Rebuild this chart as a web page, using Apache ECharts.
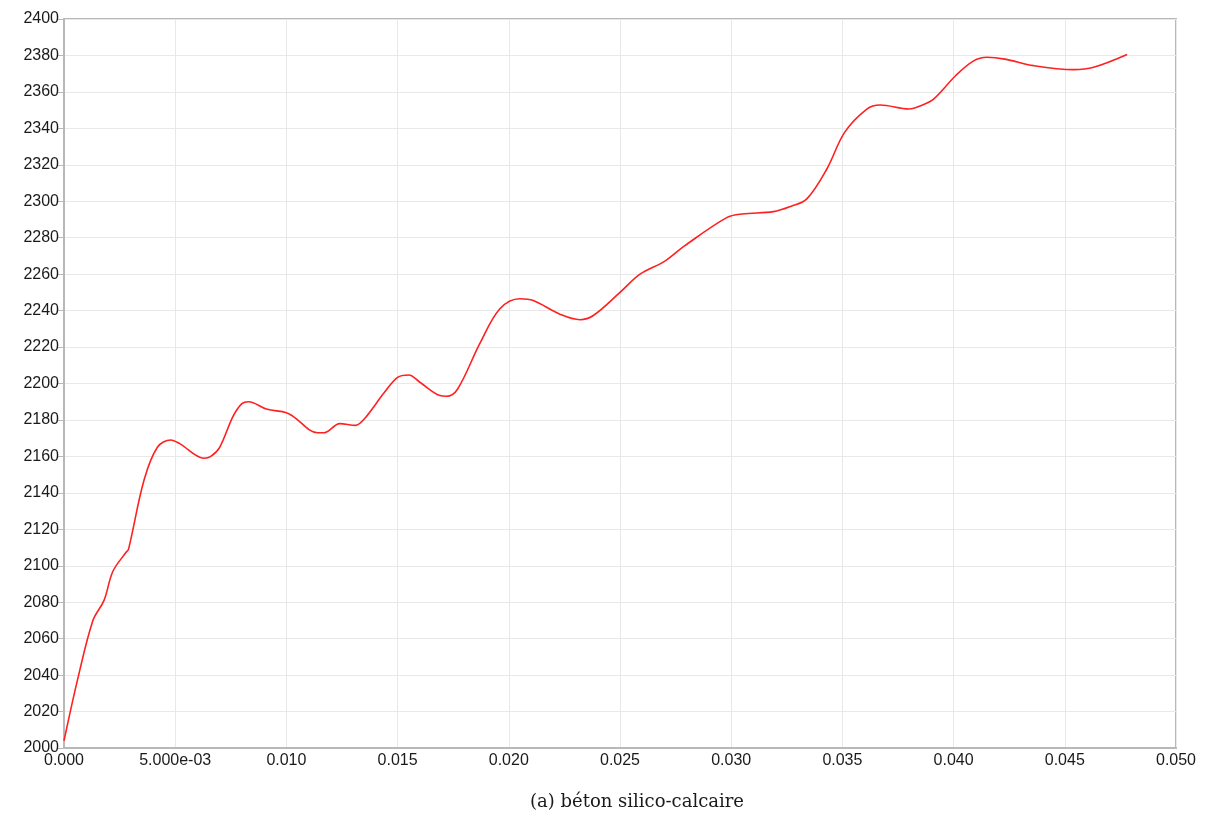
<!DOCTYPE html>
<html>
<head>
    <meta charset="UTF-8">
    <title>béton silico-calcaire</title>
    <script src="https://cdn.jsdelivr.net/npm/echarts@6/dist/echarts.min.js"></script>
    <style>
        html, body { margin: 0; padding: 0; background: #fff; }
        #chart { width: 1207px; height: 814px; }
    </style>
</head>
<body>
<div id="chart"></div>
<script>
    // déformation (axe x)
    var strain = [0, 0.0006, 0.0013, 0.0018, 0.0022, 0.0028, 0.0029, 0.0036, 0.0042, 0.0048,
        0.0052, 0.0063, 0.0066, 0.0070, 0.0076, 0.0080, 0.0083, 0.0091, 0.0100, 0.0103,
        0.0114, 0.0117, 0.0124, 0.0131, 0.0135, 0.0144, 0.0150, 0.0155, 0.0160, 0.0169,
        0.0172, 0.0177, 0.0187, 0.0196, 0.0205, 0.0211, 0.0223, 0.0232, 0.0238, 0.0250,
        0.0259, 0.0270, 0.0279, 0.0298, 0.0305, 0.0319, 0.0327, 0.0334, 0.0343, 0.0351,
        0.0361, 0.0367, 0.0380, 0.0386, 0.0391, 0.0401, 0.0409, 0.0415, 0.0423, 0.0436,
        0.0454, 0.0463, 0.0478];
    // masse volumique (axe y)
    var density = [2004, 2037, 2070, 2081, 2097, 2107.5, 2109, 2147, 2165, 2169,
        2167, 2159, 2160, 2165, 2182, 2189, 2190, 2186, 2184, 2182,
        2173, 2173, 2178, 2177, 2180.5, 2195, 2203.4, 2204.7, 2200.7, 2193.4,
        2193, 2197, 2222, 2241, 2246.5, 2245.5, 2238, 2235, 2237.3, 2250,
        2260, 2267, 2275.5, 2291, 2293, 2294.3, 2297.3, 2301.3, 2317.7, 2337.8,
        2350.6, 2352.8, 2350.6, 2352.8, 2356, 2369, 2377, 2379, 2378, 2374.4,
        2372.2, 2373.5, 2380.5];
    var caption = '(a) béton silico-calcaire';

    var points = strain.map(function (x, i) { return [x, density[i]]; });

    var myChart = echarts.init(document.getElementById('chart'));
    var option = {
        animation: false,
        backgroundColor: '#ffffff',
        title: {
            text: caption,
            left: 632,
            textAlign: 'center',
            top: 788,
            textStyle: { fontFamily: 'DejaVu Serif', fontWeight: 'normal', fontSize: 18, color: '#1a1a1a' }
        },
        grid: {
            left: 64, right: 31, top: 19, bottom: 66,
            show: true, borderColor: '#b8b8b8', borderWidth: 2, backgroundColor: '#fff'
        },
        xAxis: {
            type: 'value', min: 0, max: 0.05, interval: 0.005,
            axisLine: { show: true, lineStyle: { color: '#b8b8b8', width: 2 } },
            axisTick: { show: false },
            axisLabel: {
                margin: 5, color: '#1a1a1a', fontFamily: 'Liberation Sans', fontSize: 16,
                formatter: function (v) {
                    if (Math.abs(v - 0.005) < 1e-9) return '5.000e-03';
                    return v.toFixed(3);
                }
            },
            splitLine: { show: true, lineStyle: { color: '#e8e8e8', width: 1 } }
        },
        yAxis: {
            type: 'value', min: 2000, max: 2400, interval: 20,
            axisLine: { show: true, lineStyle: { color: '#b8b8b8', width: 2 } },
            axisTick: { show: true, length: 6, lineStyle: { color: '#b8b8b8' } },
            axisLabel: {
                margin: 5, color: '#1a1a1a', fontFamily: 'Liberation Sans', fontSize: 16,
                formatter: function (v) { return String(v); }
            },
            splitLine: { show: true, lineStyle: { color: '#e8e8e8', width: 1 } }
        },
        series: [{
            type: 'line',
            data: points,
            smooth: 0.35,
            showSymbol: false,
            lineStyle: { color: '#ff2020', width: 1.6 }
        }]
    };
    myChart.setOption(option);
</script>
</body>
</html>
